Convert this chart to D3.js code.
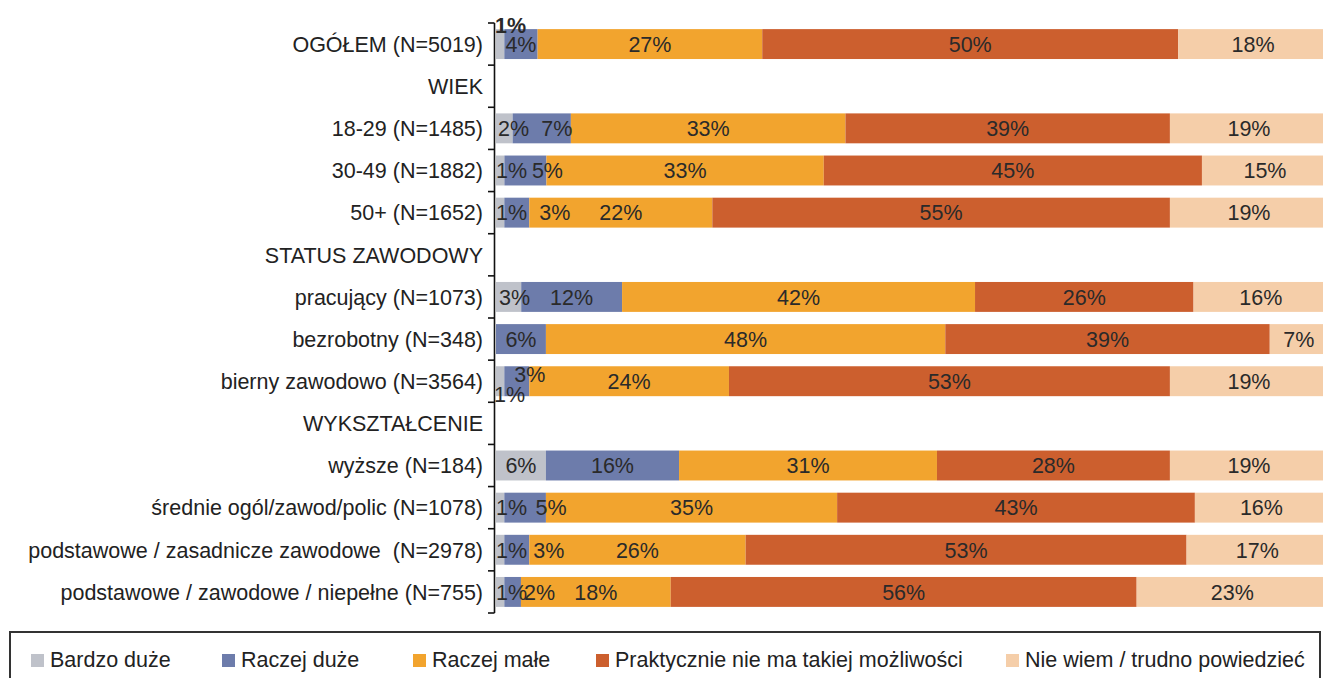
<!DOCTYPE html>
<html lang="pl">
<head>
<meta charset="utf-8">
<script src="https://cdn.jsdelivr.net/npm/d3@7"></script>
<style>
  html, body { margin: 0; padding: 0; background: #fff; }
  svg { display: block; font-family: "Liberation Sans", Arial, Helvetica, sans-serif; }
  svg text { white-space: pre; }
</style>
</head>
<body>
<svg id="chart" width="1323" height="678"></svg>
<script>
// Row labels (group headers have no bars)
const categories = [
  "OGÓŁEM (N=5019)",
  "WIEK",
  "18-29 (N=1485)",
  "30-49 (N=1882)",
  "50+ (N=1652)",
  "STATUS ZAWODOWY",
  "pracujący (N=1073)",
  "bezrobotny (N=348)",
  "bierny zawodowo (N=3564)",
  "WYKSZTAŁCENIE",
  "wyższe (N=184)",
  "średnie ogól/zawod/polic (N=1078)",
  "podstawowe / zasadnicze zawodowe  (N=2978)",
  "podstawowe / zawodowe / niepełne (N=755)"
];

const seriesNames = [
  "Bardzo duże",
  "Raczej duże",
  "Raczej małe",
  "Praktycznie nie ma takiej możliwości",
  "Nie wiem / trudno powiedzieć"
];

// Percentages per series, one entry per category (null = header row)
const bardzoDuze      = [1, null, 2, 1, 1, null, 3, 0, 1, null, 6, 1, 1, 1];
const raczejDuze      = [4, null, 7, 5, 3, null, 12, 6, 3, null, 16, 5, 3, 2];
const raczejMale      = [27, null, 33, 33, 22, null, 42, 48, 24, null, 31, 35, 26, 18];
const praktycznieNie  = [50, null, 39, 45, 55, null, 26, 39, 53, null, 28, 43, 53, 56];
const nieWiem         = [18, null, 19, 15, 19, null, 16, 7, 19, null, 19, 16, 17, 23];

const seriesValues = [bardzoDuze, raczejDuze, raczejMale, praktycznieNie, nieWiem];
const colors = ["#BFC2CA", "#6D7CAB", "#F2A42E", "#CC5F2E", "#F5CEA9"];

// Hand-placed data labels for the crowded small segments
const labelNudge = {
  "OGÓŁEM (N=5019)|0": { dx: -1, dy: -19, bold: true },
  "18-29 (N=1485)|0": { dx: 2 },
  "18-29 (N=1485)|1": { dx: 15 },
  "30-49 (N=1882)|1": { dx: 22 },
  "50+ (N=1652)|1": { dx: 38 },
  "bierny zawodowo (N=3564)|0": { dx: -2, dy: 13 },
  "bierny zawodowo (N=3564)|1": { dx: 13, dy: -7 },
  "pracujący (N=1073)|0": { dx: 3 },
  "średnie ogól/zawod/polic (N=1078)|1": { dx: 26 },
  "podstawowe / zasadnicze zawodowe  (N=2978)|1": { dx: 32 },
  "podstawowe / zawodowe / niepełne (N=755)|1": { dx: 27 }
};

const svg = d3.select("#chart");
const fontSize = 21.5;

// 100% stacked: each row is normalised by its own total
const x = d3.scaleLinear().domain([0, 1]).range([496, 1328]);
const y = d3.scaleBand().domain(categories).range([23, 613]).paddingInner(0.29).paddingOuter(0.145);

const rows = categories.map((cat, i) => {
  if (seriesValues[0][i] === null) return { cat, segs: [] };
  const total = d3.sum(seriesValues, arr => arr[i]);
  let acc = 0;
  const segs = seriesValues.map((arr, s) => {
    const v = arr[i];
    const seg = { cat, s, v, x0: acc / total, x1: (acc + v) / total };
    acc += v;
    return seg;
  });
  return { cat, segs };
});
const segments = rows.flatMap(r => r.segs);

// Bars
svg.append("g")
  .selectAll("rect")
  .data(segments.filter(d => d.v > 0))
  .join("rect")
  .attr("x", d => x(d.x0))
  .attr("y", d => y(d.cat))
  .attr("width", d => x(d.x1) - x(d.x0))
  .attr("height", y.bandwidth())
  .attr("fill", d => colors[d.s]);

// Category axis on the left
const step = y.step();
const axisG = svg.append("g");
axisG.append("line")
  .attr("x1", 494.5).attr("x2", 494.5)
  .attr("y1", y.range()[0]).attr("y2", y.range()[1])
  .attr("stroke", "#111").attr("stroke-width", 1.6);
const boundaries = d3.range(categories.length + 1).map(k => y.range()[0] + k * step);
axisG.selectAll("line.tick")
  .data(boundaries)
  .join("line")
  .attr("class", "tick")
  .attr("x1", 488).attr("x2", 494.5)
  .attr("y1", d => d).attr("y2", d => d)
  .attr("stroke", "#111").attr("stroke-width", 1.6);

svg.append("g")
  .selectAll("text")
  .data(categories)
  .join("text")
  .attr("x", 483)
  .attr("y", d => y(d) + y.bandwidth() / 2)
  .attr("dy", "0.36em")
  .attr("text-anchor", "end")
  .attr("font-size", fontSize)
  .attr("fill", "#222")
  .text(d => d);

// Data labels
const labelG = svg.append("g");
segments.filter(d => d.v > 0).forEach(d => {
  const key = d.cat + "|" + d.s;
  const n = labelNudge[key] || {};
  const t = labelG.append("text")
    .attr("font-size", fontSize)
    .attr("fill", "#2a2a2a")
    .attr("text-anchor", "middle")
    .attr("font-weight", n.bold ? "bold" : null)
    .text(d.v + "%");
  const w = t.node().getComputedTextLength();
  let cx = (x(d.x0) + x(d.x1)) / 2;
  // keep labels inside the plot area
  cx = Math.max(cx, x(0) + w / 2);
  cx += n.dx || 0;
  t.attr("x", cx)
   .attr("y", y(d.cat) + y.bandwidth() / 2 + (n.dy || 0))
   .attr("dy", "0.36em");
});

// Legend
const legend = svg.append("g");
legend.append("rect")
  .attr("x", 10).attr("y", 632)
  .attr("width", 1310).attr("height", 60)
  .attr("fill", "#fff")
  .attr("stroke", "#333").attr("stroke-width", 2);
const legendX = [31, 222, 413, 596, 1006];
seriesNames.forEach((name, i) => {
  const g = legend.append("g").attr("transform", `translate(${legendX[i]},654)`);
  g.append("rect").attr("width", 13).attr("height", 13).attr("fill", colors[i]);
  g.append("text")
    .attr("x", 19).attr("y", 13)
    .attr("font-size", fontSize)
    .attr("fill", "#222")
    .text(name);
});
</script>
</body>
</html>
